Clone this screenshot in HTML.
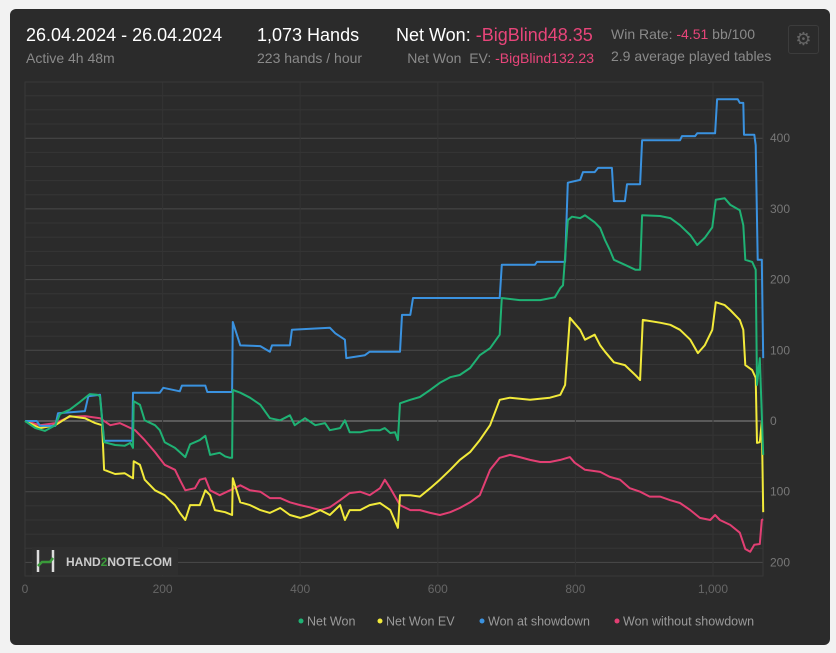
<!DOCTYPE html>
<html><head><meta charset="utf-8"><style>
body{margin:0;background:#f2f2f2;width:836px;height:653px;overflow:hidden;font-family:"Liberation Sans",sans-serif}
#card{position:absolute;left:10px;top:9px;width:820px;height:636px;background:#2b2b2b;border-radius:6px}
.t{position:absolute;white-space:nowrap;font-family:"Liberation Sans",sans-serif}
.w{color:#fff;font-size:18px}.g{color:#8a8a8a;font-size:14px}.p{color:#e8457a}
</style></head><body>
<div id="card"></div>
<div class="t w" style="left:26px;top:25px">26.04.2024 - 26.04.2024</div>
<div class="t g" style="left:26px;top:50px">Active 4h 48m</div>
<div class="t w" style="left:257px;top:25px">1,073 Hands</div>
<div class="t g" style="left:257px;top:50px">223 hands / hour</div>
<div class="t w" style="left:396px;top:25px">Net Won: <span class="p">-BigBlind48.35</span></div>
<div class="t g" style="right:242px;top:50px">Net Won&nbsp; EV: <span class="p">-BigBlind132.23</span></div>
<div class="t g" style="left:611px;top:26px">Win Rate: <span class="p">-4.51</span> bb/100</div>
<div class="t g" style="left:611px;top:48px">2.9 average played tables</div>
<div style="position:absolute;left:788px;top:25px;width:29px;height:27px;border:1px solid #3c3c3c;border-radius:3px;color:#666;font-size:18px;text-align:center;line-height:27px">⚙</div>
<svg id="chart" width="836" height="653" style="position:absolute;left:0;top:0"></svg>
<script>
const yTicks=[-200,-100,0,100,200,300,400];
const yTickLabels=["200","100","0","100","200","300","400"];
const xTicks=[0,200,400,600,800,1000];
const xTickLabels=["0","200","400","600","800","1,000"];
const seriesNames=["Won at showdown","Net Won","Net Won  EV","Won without showdown"];
const blueH=[0,17,22,44,48,87,92,109,115,156,157,196,201,225,228,262,265,301,302,313,342,356,359,385,388,443,451,465,467,494,501,545,548,560,564,690,693,741,744,785,789,807,811,828,833,853,856,872,875,894,897,952,955,974,977,1003,1006,1036,1039,1044,1045,1060,1062,1065,1071,1073];
const blueV=[0,0,-7,-7,11,14,35,37,-28,-28,40,40,47,42,50,50,41,41,140,107,106,98,107,107,129,132,124,115,89,93,98,98,150,150,174,174,221,221,225,225,337,341,352,352,358,358,311,311,335,335,397,397,403,403,407,407,455,455,450,450,405,405,390,228,228,89];
const greenH=[0,15,29,44,51,65,80,94,105,109,115,131,145,153,157,158,167,174,189,196,203,218,225,233,240,254,262,269,283,291,298,301,302,313,327,342,356,371,385,392,407,422,436,443,458,465,472,487,501,516,523,531,538,542,545,560,574,589,603,618,632,647,661,676,690,693,719,749,770,778,782,789,795,807,814,828,836,843,850,856,872,887,894,897,923,938,952,967,977,988,999,1004,1017,1025,1039,1044,1047,1057,1062,1064,1068,1073];
const greenV=[0,-10,-14,-6,10,16,27,38,37,35,-30,-34,-35,-31,-38,28,23,1,-6,-13,-30,-38,-44,-51,-33,-27,-21,-48,-45,-50,-52,-52,44,40,33,23,4,1,8,-6,4,-6,-3,-13,-10,1,-16,-16,-13,-13,-10,-17,-16,-27,25,30,34,44,54,62,65,75,93,103,122,174,171,171,175,188,192,284,289,287,291,281,273,256,242,228,221,214,214,291,290,287,277,263,249,259,274,313,315,306,298,277,228,225,214,51,89,-48];
const yellowH=[0,22,44,65,87,102,112,115,131,145,157,158,167,174,189,203,218,225,233,240,254,262,269,276,291,301,302,313,327,342,356,371,385,400,414,429,443,458,465,472,487,501,516,531,542,545,560,574,589,603,618,632,647,661,676,690,705,734,763,778,785,792,807,814,828,836,843,856,872,887,894,898,923,938,952,967,978,988,999,1004,1017,1025,1039,1044,1047,1057,1062,1064,1068,1071,1073];
const yellowV=[0,-10,-6,7,4,-3,-6,-69,-75,-74,-81,-57,-62,-83,-98,-105,-119,-130,-140,-119,-119,-98,-105,-126,-129,-133,-81,-115,-119,-126,-130,-123,-133,-137,-133,-126,-133,-119,-140,-126,-126,-119,-116,-126,-151,-105,-105,-107,-95,-83,-69,-55,-44,-27,-6,30,33,30,33,37,51,146,129,115,122,107,98,83,79,65,58,143,139,136,129,115,96,107,129,168,164,157,143,129,79,72,61,-31,-30,-1,-129];
const pinkH=[0,22,44,65,87,109,124,138,160,174,189,203,218,225,233,247,254,262,269,283,298,313,327,342,356,371,385,400,414,429,443,458,472,487,501,516,523,531,545,560,574,589,603,618,632,647,661,676,690,705,719,734,749,763,778,792,799,814,836,850,865,879,894,908,923,938,952,967,981,996,1003,1010,1025,1039,1047,1054,1060,1068,1071,1073];
const pinkV=[0,-6,-3,6,7,4,-6,-3,-13,-27,-44,-62,-69,-83,-98,-95,-83,-81,-98,-105,-98,-91,-98,-100,-109,-109,-115,-119,-122,-126,-122,-112,-102,-100,-105,-95,-83,-95,-119,-126,-126,-130,-133,-129,-123,-115,-105,-69,-52,-48,-51,-55,-58,-58,-55,-51,-59,-69,-72,-79,-83,-95,-100,-107,-107,-112,-116,-126,-137,-140,-133,-140,-147,-158,-181,-185,-175,-174,-140,-139];

const NS='http://www.w3.org/2000/svg';
const svg=document.getElementById('chart');
const L=25,R=763,T=82,B=576;
const xs=h=>L+h*(713-25)/1000;
const ys=v=>421-v*0.707;
function mk(tag,attrs){const e=document.createElementNS(NS,tag);for(const k in attrs)e.setAttribute(k,attrs[k]);svg.appendChild(e);return e;}
for(let v=-200;v<=460;v+=20){
  if(ys(v)<T||ys(v)>B)continue;
  const major=v%100===0;
  const ln=mk('line',{x1:L,x2:R,y1:ys(v),y2:ys(v),stroke:v===0?'#8a8a8a':(major?'#4a4a4a':'#363636'),'stroke-width':1});
  
  
}
for(let i=0;i<xTicks.length;i++){
  const ln=mk('line',{x1:xs(xTicks[i]),x2:xs(xTicks[i]),y1:T,y2:B,stroke:'#343434'});
  
  
  const t=mk('text',{x:xs(xTicks[i]),y:593,fill:'#666','font-size':12,'text-anchor':'middle','font-family':'Liberation Sans, sans-serif'});
  t.textContent=xTickLabels[i];
  
  
}
for(let i=0;i<yTicks.length;i++){
  const t=mk('text',{x:770,y:ys(yTicks[i])+4,fill:'#777','font-size':12,'font-family':'Liberation Sans, sans-serif'});
  t.textContent=yTickLabels[i];
  
  
}
const fr=mk('rect',{x:L,y:T,width:R-L,height:B-T,fill:'none',stroke:'#383838'});


const lg=mk('rect',{x:32,y:547,width:146,height:28,fill:'#2f2f2f'});


const lp=mk('path',{d:'M38 550v22M53 550v22',stroke:'#ddd','stroke-width':2.5,fill:'none'});


const lp2=mk('path',{d:'M38 566l4-4h8l3-4',stroke:'#3a9a3a','stroke-width':2.5,fill:'none'});


const lt=mk('text',{x:66,y:566,fill:'#ccc','font-size':12,'font-weight':'bold','font-family':'Liberation Sans, sans-serif'});
lt.innerHTML='HAND<tspan fill="#3a9a3a">2</tspan>NOTE.COM';


function series(H,V,color,name){
  const pts=H.map((h,i)=>xs(h).toFixed(1)+','+ys(V[i]).toFixed(1)).join(' ');
  const pl=mk('polyline',{points:pts,fill:'none',stroke:color,'stroke-width':2,'stroke-linejoin':'round'});
  
  
}
series(pinkH,pinkV,'#e23f73','won-without-showdown-line');
series(yellowH,yellowV,'#f2ea3a','net-won-ev-line');
series(blueH,blueV,'#3a92e0','won-at-showdown-line');
series(greenH,greenV,'#1fb274','net-won-line');
const legend=[[301,'#1fb274','Net Won','legend-net-won'],[380,'#f2ea3a','Net Won  EV','legend-net-won-ev'],[482,'#3a92e0','Won at showdown','legend-won-at-showdown'],[617,'#e23f73','Won without showdown','legend-won-without-showdown']];
for(const [x,c,lab,nm] of legend){
  const g=document.createElementNS(NS,'g');svg.appendChild(g);
  
  
  const d=document.createElementNS(NS,'circle');d.setAttribute('cx',x);d.setAttribute('cy',621);d.setAttribute('r',2.5);d.setAttribute('fill',c);g.appendChild(d);
  const t=document.createElementNS(NS,'text');t.setAttribute('x',x+6);t.setAttribute('y',625.5);t.setAttribute('fill','#9a9a9a');t.setAttribute('font-size',12.5);t.setAttribute('font-family','Liberation Sans, sans-serif');t.setAttribute('xml:space','preserve');t.textContent=lab;g.appendChild(t);
}
</script>
</body></html>
